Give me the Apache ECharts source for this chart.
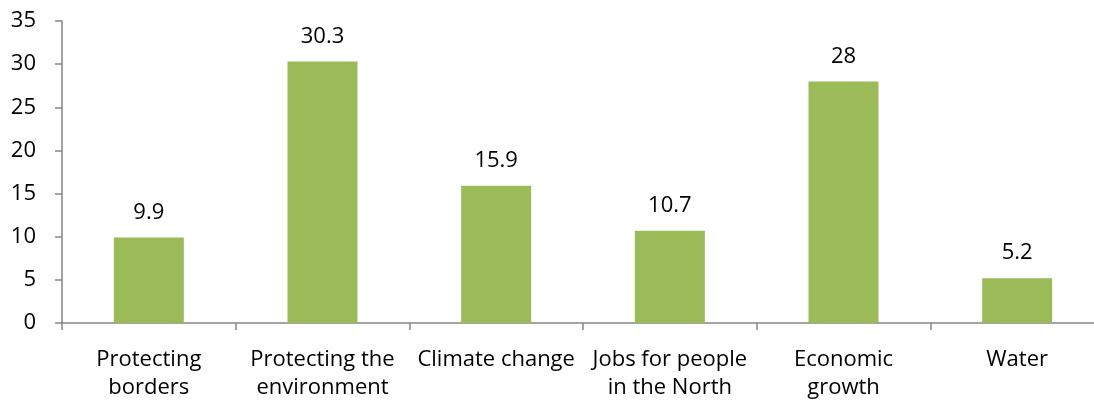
<!DOCTYPE html>
<html>
<head>
<meta charset="utf-8">
<script src="https://cdn.jsdelivr.net/npm/echarts@6/dist/echarts.min.js"></script>
<style>
  html, body { margin: 0; padding: 0; background: #fff; }
  #chart { width: 1094px; height: 402px; }
</style>
</head>
<body>
<div id="chart"></div>
<script>
// Share of responses by priority area
const categories = [
  'Protecting\nborders',
  'Protecting the\nenvironment',
  'Climate change',
  'Jobs for people\nin the North',
  'Economic\ngrowth',
  'Water'
];
const values = [9.9, 30.3, 15.9, 10.7, 28, 5.2];
const yTicks = { min: 0, max: 35, interval: 5 };

const font = '"Open Sans", sans-serif';
const axisGray = '#868686';

const chart = echarts.init(document.getElementById('chart'), null, { renderer: 'canvas' });
chart.setOption({
  animation: false,
  grid: {
    left: 62, top: 21, width: 1042, height: 302,
    containLabel: false,
    outerBoundsMode: 'none'
  },
  xAxis: {
    type: 'category',
    data: categories,
    axisLine: { lineStyle: { color: axisGray, width: 1.5 } },
    axisTick: { show: true, length: 7, alignWithLabel: false, lineStyle: { color: axisGray, width: 1.5 } },
    axisLabel: {
      interval: 0,
      margin: 23,
      color: '#000',
      fontFamily: font,
      fontSize: 22,
      lineHeight: 28
    }
  },
  yAxis: {
    type: 'value',
    min: yTicks.min,
    max: yTicks.max,
    interval: yTicks.interval,
    splitLine: { show: false },
    axisLine: { show: true, lineStyle: { color: axisGray, width: 1.5 } },
    axisTick: { show: true, length: 7, lineStyle: { color: axisGray, width: 1.5 } },
    axisLabel: {
      margin: 26,
      color: '#000',
      fontFamily: font,
      fontSize: 22
    }
  },
  series: [{
    type: 'bar',
    data: values,
    barWidth: 70,
    itemStyle: { color: '#9BBB59' },
    label: {
      show: true,
      position: 'top',
      distance: 14,
      color: '#000',
      fontFamily: font,
      fontSize: 22
    }
  }]
});
</script>
</body>
</html>
